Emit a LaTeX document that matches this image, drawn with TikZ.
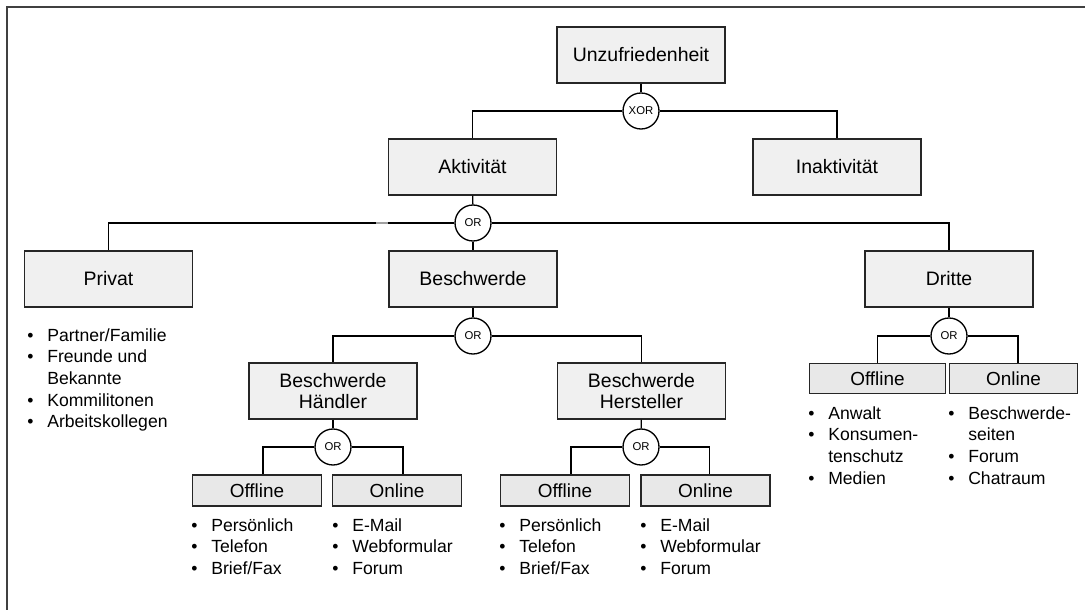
\documentclass[tikz,border=0pt]{standalone}
\usepackage{fontspec}
\setmainfont{Liberation Sans}
\definecolor{boxfill}{HTML}{F0F0F0}
\definecolor{sboxfill}{HTML}{E8E8E8}
\definecolor{framecol}{HTML}{404040}
\definecolor{artcol}{HTML}{A0A0A0}
\newcommand{\bul}{\makebox[15pt][l]{\textbullet}}
\newcommand{\ind}{\hspace*{15pt}}
\begin{document}
\begin{tikzpicture}[x=0.75pt,y=-0.75pt,
  box/.style={draw=black!85,fill=boxfill,line width=1pt,minimum width=126pt,minimum height=42pt,inner sep=0pt,align=center,font=\fontsize{14.6}{16.3}\selectfont},
  sbox/.style={draw=black!85,fill=sboxfill,line width=1pt,minimum width=96.75pt,minimum height=23.25pt,inner sep=0pt,font=\fontsize{14.2}{16}\selectfont},
  gate/.style={draw=black,fill=white,circle,line width=1pt,minimum size=27pt,inner sep=0pt,font=\fontsize{8.5}{9}\selectfont},
  lst/.style={anchor=north west,inner sep=0pt,align=left,font=\fontsize{13.2}{16.3}\selectfont},
  conn/.style={draw=black,line width=1pt}]
\useasboundingbox (0,0) rectangle (1085,610);
\draw[framecol,line width=1.5pt] (1085,7) -- (7,7) -- (7,610);

% nodes
\node[box] (unz) at (641,55) {Unzufriedenheit};
\node[gate] (xor) at (641,111) {XOR};
\node[box] (akt) at (472.5,167) {Aktivität};
\node[box] (inakt) at (837,167) {Inaktivität};
\node[gate] (or1) at (473,223) {OR};
\node[box] (privat) at (108.5,279) {Privat};
\node[box] (beschw) at (473,279) {Beschwerde};
\node[box] (dritte) at (949,279) {Dritte};
\node[gate] (or2) at (473,336) {OR};
\node[box] (haendler) at (333,391) {Beschwerde\\Händler};
\node[box] (herst) at (641.5,391) {Beschwerde\\Hersteller};
\node[gate] (or3) at (333,447) {OR};
\node[gate] (or4) at (641,447) {OR};
\node[gate] (or5) at (949,336) {OR};
\node[sbox] (off1) at (257,490.5) {Offline};
\node[sbox] (on1) at (397,490.5) {Online};
\node[sbox] (off2) at (565,490.5) {Offline};
\node[sbox] (on2) at (705.5,490.5) {Online};
\node[sbox,minimum width=102pt,minimum height=22.5pt] (off3) at (877.5,378.3) {Offline};
\node[sbox,minimum width=96pt,minimum height=22.5pt] (on3) at (1013.5,378.3) {Online};

% lists
\node[lst] (lprivat) at (27,328) {\bul Partner/Familie\\\bul Freunde und\\\ind Bekannte\\\bul Kommilitonen\\\bul Arbeitskollegen};
\node[lst] (loff1) at (191,518) {\bul Persönlich\\\bul Telefon\\\bul Brief/Fax};
\node[lst] (lon1) at (332,518) {\bul E-Mail\\\bul Webformular\\\bul Forum};
\node[lst] (loff2) at (499,518) {\bul Persönlich\\\bul Telefon\\\bul Brief/Fax};
\node[lst] (lon2) at (640,518) {\bul E-Mail\\\bul Webformular\\\bul Forum};
\node[lst] (loff3) at (808,406) {\bul Anwalt\\\bul Konsumen-\\\ind tenschutz\\\bul Medien};
\node[lst] (lon3) at (948,406) {\bul Beschwerde-\\\ind seiten\\\bul Forum\\\bul Chatraum};

% connectors
\draw[conn] (unz) -- (xor);
\draw[conn] (xor.west) -| (akt.north);
\draw[conn] (xor.east) -| (inakt.north);
\draw[conn] (akt) -- (or1);
\draw[conn] (or1.west) -| (privat.north);
\draw[conn] (or1.east) -| (dritte.north);
\draw[conn] (or1) -- (beschw);
\draw[conn] (beschw) -- (or2);
\draw[conn] (or2.west) -| (haendler.north);
\draw[conn] (or2.east) -| (herst.north);
\draw[conn] (haendler) -- (or3);
\draw[conn] (or3.west) -| ([xshift=4.5pt]off1.north);
\draw[conn] (or3.east) -| ([xshift=4.5pt]on1.north);
\draw[conn] (herst) -- (or4);
\draw[conn] (or4.west) -| ([xshift=4.5pt]off2.north);
\draw[conn] (or4.east) -| ([xshift=3pt]on2.north);
\draw[conn] (dritte) -- (or5);
\draw[conn] (or5.west) -| (off3.north);
\draw[conn] (or5.east) -| ([xshift=3.4pt]on3.north);
\coordinate (a1) at (376,223);
\coordinate (a2) at (388,223);
\draw[artcol,line width=1.6pt] (a1) -- (a2);
\end{tikzpicture}
\end{document}
